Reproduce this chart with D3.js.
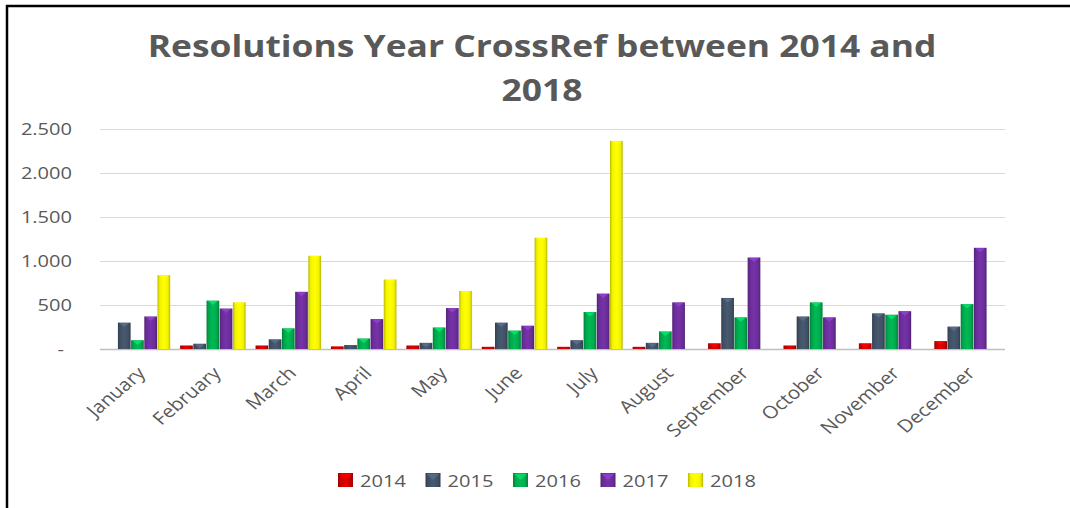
<!DOCTYPE html>
<html><head><meta charset="utf-8">
<script src="https://cdn.jsdelivr.net/npm/d3@7"></script>
<style>html,body{margin:0;padding:0;background:#fff;}svg{display:block;}</style>
</head><body>
<script>
const months = ["January","February","March","April","May","June","July","August","September","October","November","December"];
const years = ["2014","2015","2016","2017","2018"];
const v2014 = [0, 40, 40, 30, 40, 25, 25, 25, 65, 40, 65, 90];
const v2015 = [300, 60, 110, 45, 70, 300, 100, 70, 580, 370, 405, 255];
const v2016 = [100, 550, 235, 120, 245, 210, 420, 200, 360, 530, 390, 510];
const v2017 = [370, 460, 650, 340, 465, 265, 630, 530, 1040, 360, 430, 1150];
const v2018 = [840, 530, 1060, 790, 660, 1265, 2365, 0, 0, 0, 0, 0];
const yTicks = [0, 500, 1000, 1500, 2000, 2500];
const yTickLabels = ["-", "500", "1.000", "1.500", "2.000", "2.500"];
const titleLines = ["Resolutions Year CrossRef between 2014 and", "2018"];
const colors = ["#d40000", "#44546a", "#00b050", "#7030a0", "#ffff00"];

(function () {
const series = [v2014, v2015, v2016, v2017, v2018];
const W = 1070, H = 508, SX = 1.18;
const textColor = "#595959";

const svg = d3.select("body").append("svg").attr("width", W).attr("height", H);
const defs = svg.append("defs");
colors.forEach((c, i) => {
  const g = defs.append("linearGradient").attr("id", "g" + i).attr("x1", "0").attr("x2", "1").attr("y1", "0").attr("y2", "0");
  const base = d3.color(c);
  g.append("stop").attr("offset", "0%").attr("stop-color", base.darker(0.9));
  g.append("stop").attr("offset", "18%").attr("stop-color", base.darker(0.15));
  g.append("stop").attr("offset", "50%").attr("stop-color", base.brighter(0.15));
  g.append("stop").attr("offset", "82%").attr("stop-color", base.darker(0.15));
  g.append("stop").attr("offset", "100%").attr("stop-color", base.darker(0.9));
});

// frame
svg.append("line").attr("x1", 7).attr("x2", 7).attr("y1", 5).attr("y2", H).attr("stroke", "#000").attr("stroke-width", 2.5);
svg.append("line").attr("x1", 6).attr("x2", W).attr("y1", 6).attr("y2", 6).attr("stroke", "#000").attr("stroke-width", 2.5);

// title
const tl = [57, 101];
titleLines.forEach((t, i) => {
  svg.append("text").text(t)
    .attr("transform", `translate(542,${tl[i]}) scale(${SX},1)`)
    .attr("text-anchor", "middle")
    .attr("font-family", "Open Sans, sans-serif").attr("font-weight", "bold")
    .attr("font-size", 30).attr("fill", textColor);
});

const pLeft = 100, pRight = 1005, pTop = 129, pBottom = 349;
const y = d3.scaleLinear().domain([0, 2500]).range([pBottom, pTop]);
const x0 = d3.scaleBand().domain(months).range([pLeft, pRight]).paddingInner(0.125).paddingOuter(0.0625);
const x1 = d3.scaleBand().domain(years).range([0, x0.bandwidth()]).padding(0);

// gridlines
svg.append("g").selectAll("line").data(yTicks).join("line")
  .attr("x1", pLeft).attr("x2", pRight)
  .attr("y1", d => Math.round(y(d)) + 0.5).attr("y2", d => Math.round(y(d)) + 0.5)
  .attr("stroke", d => d === 0 ? "#bfbfbf" : "#d9d9d9").attr("stroke-width", d => d === 0 ? 1.5 : 1);

// y labels
svg.append("g").selectAll("text").data(yTicks).join("text")
  .text((d, i) => yTickLabels[i])
  .attr("transform", d => `translate(${d === 0 ? 64 : 72},${y(d) + 6}) scale(${SX},1)`)
  .attr("text-anchor", "end")
  .attr("font-family", "Open Sans, sans-serif").attr("font-size", 17).attr("fill", textColor);

// bars
const flat = [];
months.forEach((m, mi) => series.forEach((s, si) => {
  if (s[mi] > 0) flat.push({ m, yr: years[si], si, v: s[mi] });
}));
const bars = svg.append("g");
bars.selectAll("rect").data(flat).join("rect")
  .attr("x", d => x0(d.m) + x1(d.yr))
  .attr("width", x1.bandwidth() - 0.5)
  .attr("y", d => y(d.v))
  .attr("height", d => y(0) - y(d.v))
  .attr("fill", d => `url(#g${d.si})`);
bars.selectAll("path").data(flat.filter(d => y(0) - y(d.v) > 5)).join("path")
  .attr("d", d => {
    const bx = x0(d.m) + x1(d.yr), bw = x1.bandwidth() - 0.5, ty = y(d.v);
    return `M${bx + 1.5},${ty + 0.5} L${bx + bw - 1.5},${ty + 0.5} L${bx + bw / 2},${ty + 4.5} Z`;
  })
  .attr("fill", d => d3.color(colors[d.si]).brighter(0.8))
  .attr("opacity", 0.85);

// x labels
svg.append("g").selectAll("text").data(months).join("text")
  .text(d => d)
  .attr("transform", d => `translate(${x0(d) + x0.bandwidth() / 2 - 2},${365}) scale(${SX},1) rotate(-45)`)
  .attr("text-anchor", "end").attr("dy", "0.75em")
  .attr("font-family", "Open Sans, sans-serif").attr("font-size", 17.5).attr("fill", textColor);

// legend
const lg = svg.append("g");
years.forEach((yr, i) => {
  const lx = 338 + i * 87.5;
  lg.append("rect").attr("x", lx).attr("y", 473).attr("width", 15).attr("height", 14)
    .attr("fill", `url(#g${i})`);
  lg.append("path").attr("d", `M${lx + 1},${474} L${lx + 14},${474} L${lx + 7.5},${480} Z`)
    .attr("fill", d3.color(colors[i]).brighter(0.8)).attr("opacity", 0.7);
  lg.append("text").text(yr)
    .attr("transform", `translate(${lx + 22},${486.5}) scale(${SX},1)`)
    .attr("font-family", "Open Sans, sans-serif").attr("font-size", 17).attr("fill", textColor);
});
})();
</script>
</body></html>
